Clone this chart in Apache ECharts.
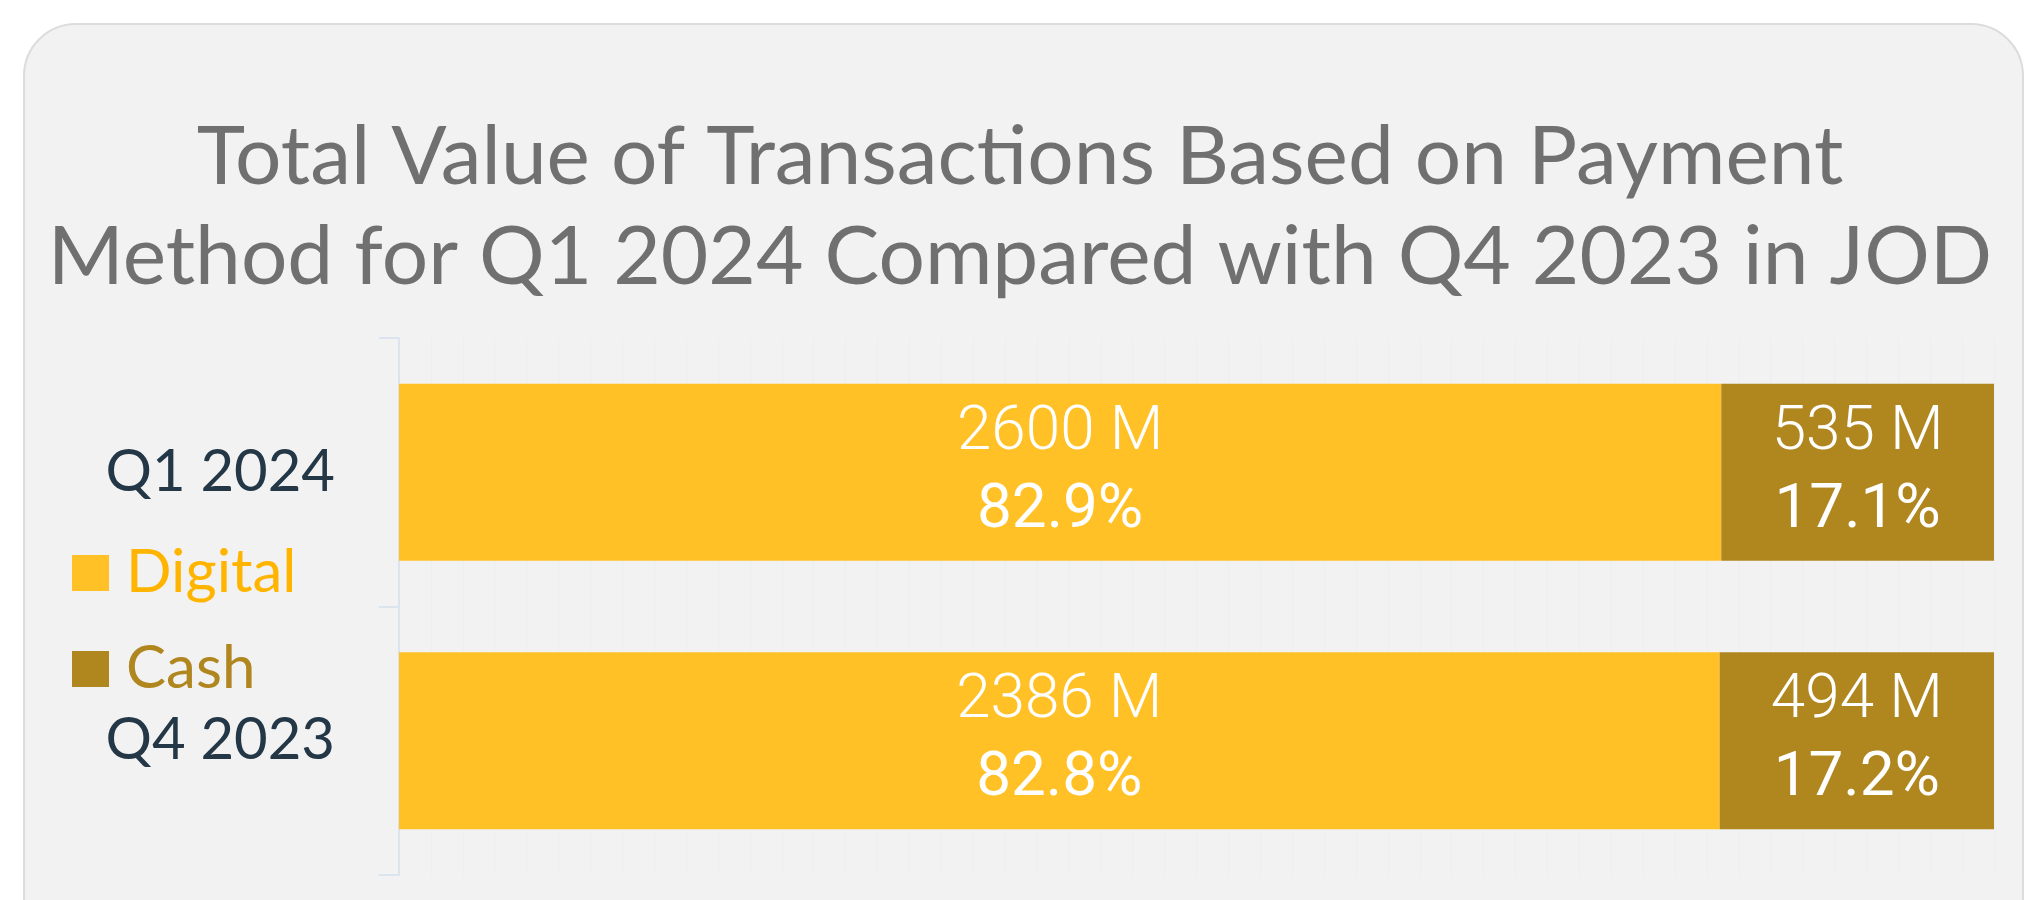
<!DOCTYPE html>
<html>
<head>
<meta charset="utf-8">
<script src="https://cdn.jsdelivr.net/npm/echarts@6/dist/echarts.min.js"></script>
<style>
  html, body { margin: 0; padding: 0; background: #ffffff; }
  #chart { width: 2040px; height: 900px; }
</style>
</head>
<body>
<div id="chart"></div>
<script>
// 数据
const categories = ['Q1 2024', 'Q4 2023'];
const seriesNames = ['Digital', 'Cash'];
const digitalValues = [2600, 2386];   // M JOD
const cashValues = [535, 494];
const digitalPct = [82.9, 82.8];
const cashPct = [17.1, 17.2];

const digitalColor = '#FFC125';
const cashColor = '#B0861F';

const chart = echarts.init(document.getElementById('chart'));

function barLabel(values) {
  return {
    show: true,
    position: 'inside',
    formatter: (p) => '{v|' + values[p.dataIndex] + ' M}\n{p|' + p.value + '%}',
    rich: {
      v: { color: '#fff', fontSize: 62, fontWeight: 300, fontFamily: 'Roboto', lineHeight: 78 },
      p: { color: '#fff', fontSize: 62, fontWeight: 400, fontFamily: 'Roboto', lineHeight: 78 }
    }
  };
}

const option = {
  backgroundColor: '#ffffff',
  graphic: [{
    type: 'rect',
    z: -10,
    shape: { x: 24, y: 24, width: 1999, height: 940, r: 52 },
    style: { fill: '#f2f2f2', stroke: '#dcdcdc', lineWidth: 2 }
  }],
  title: {
    text: 'Total Value of Transactions Based on Payment\nMethod for Q1 2024 Compared with Q4 2023 in JOD',
    left: 'center',
    top: 103,
    textStyle: {
      fontFamily: 'Lato',
      fontWeight: 400,
      fontSize: 82,
      lineHeight: 100,
      color: '#707070'
    }
  },
  legend: {
    orient: 'vertical',
    left: 67,
    top: 538,
    itemWidth: 37,
    itemHeight: 36,
    itemGap: 36,
    icon: 'rect',
    data: [
      { name: 'Digital', textStyle: { color: '#FFB400' } },
      { name: 'Cash', textStyle: { color: cashColor } }
    ],
    textStyle: { fontFamily: 'Lato', fontSize: 60, padding: [0, 0, 0, 12] }
  },
  grid: { left: 399, right: 46, top: 338, bottom: 25, containLabel: false },
  xAxis: {
    type: 'value',
    min: 0,
    max: 100,
    interval: 2,
    axisLabel: { show: false },
    axisLine: { show: false },
    axisTick: { show: false },
    splitLine: { show: true, lineStyle: { color: '#ebeef2', width: 1 } }
  },
  yAxis: {
    type: 'category',
    inverse: true,
    data: categories,
    axisLine: { show: true, lineStyle: { color: '#dbe4ee', width: 2 } },
    axisTick: { show: true, length: 20, lineStyle: { color: '#dbe4ee', width: 2 } },
    axisLabel: { margin: 64, fontFamily: 'Lato', fontSize: 58, color: '#243746' }
  },
  series: [
    {
      name: seriesNames[0],
      type: 'bar',
      stack: 'total',
      barWidth: '66%',
      itemStyle: { color: digitalColor },
      label: barLabel(digitalValues),
      data: digitalPct
    },
    {
      name: seriesNames[1],
      type: 'bar',
      stack: 'total',
      barWidth: '66%',
      itemStyle: { color: cashColor },
      label: barLabel(cashValues),
      data: cashPct
    }
  ]
};

chart.setOption(option);
</script>
</body>
</html>
